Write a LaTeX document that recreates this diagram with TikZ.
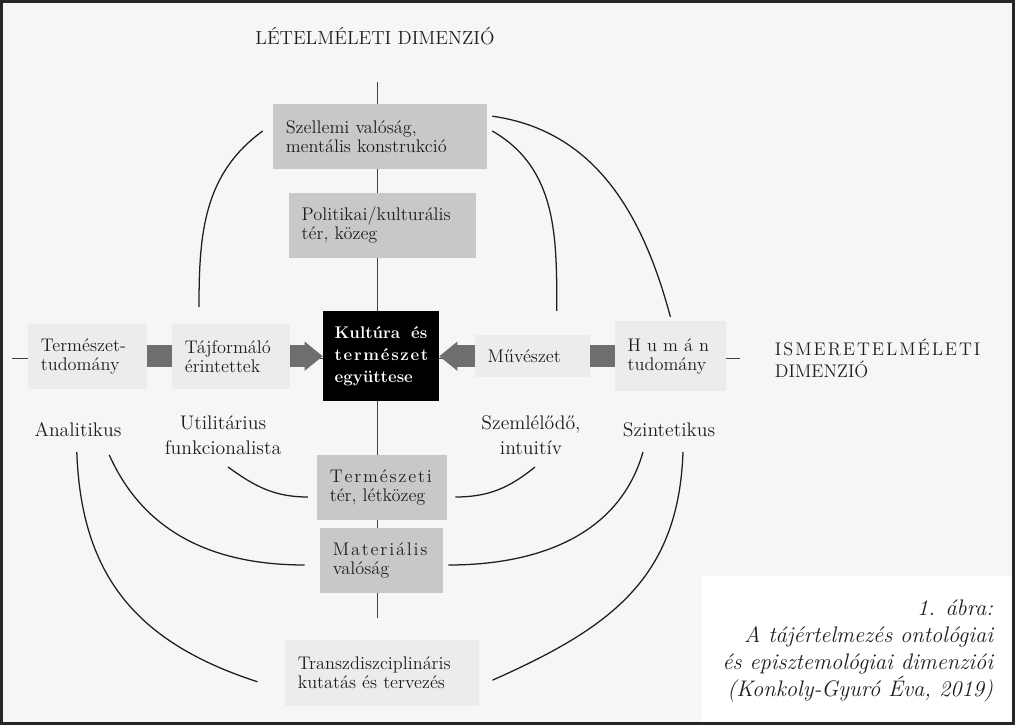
\documentclass[tikz,border=0pt]{standalone}
\usepackage{fontspec}
\usetikzlibrary{shapes,calc,arrows.meta}
\definecolor{bgcol}{HTML}{F6F6F6}
\definecolor{darkgr}{HTML}{C8C8C8}
\definecolor{lightgr}{HTML}{ECECEC}
\definecolor{barcol}{HTML}{6E6E6E}
\definecolor{inkcol}{HTML}{1E1E1E}
\newcommand{\sps}[2]{\def\spkern{\kern#1}\spsloop#2\relax}
\def\spsloop#1{\ifx#1\relax\else#1\spkern\expandafter\spsloop\fi}
\hyphenpenalty=10000
\exhyphenpenalty=10000
\tikzset{
  boxbase/.style={rectangle,align=left,inner xsep=0.32cm,inner ysep=0pt,text=inkcol,font=\fontsize{13}{13.5}\selectfont},
  dbox/.style={boxbase,fill=darkgr},
  lbox/.style={boxbase,fill=lightgr},
  lbl/.style={align=center,text=inkcol,font=\fontsize{14}{17.5}\selectfont},
  axis/.style={black!75,line width=0.6pt},
  bow/.style={inkcol,line width=0.9pt},
  gbar/.style={barcol,line width=0.55cm},
  garrow/.style={gbar,-{Triangle[length=0.45cm,width=0.7cm]}}
}

\begin{document}
\begin{tikzpicture}
\useasboundingbox (0,0) rectangle (25.375,18.125);
\fill[bgcol] (0,0) rectangle (25.375,18.125);
\fill[white] (17.55,0.075) rectangle (25.3,3.725);
\draw[axis] (9.43,16.075) -- (9.43,2.675);
\draw[axis] (0.3,9.175) -- (18.5,9.175);
\node[text=inkcol,font=\fontsize{13.5}{15}\selectfont] (LET) at (9.375,17.225) {LÉTELMÉLETI DIMENZIÓ};
\node[dbox,text width=4.71cm,minimum height=1.625cm] (SZM) at (9.5,14.71) {Szellemi valóság,\\mentális konstrukció};
\node[dbox,text width=4.035cm,minimum height=1.625cm] (POL) at (9.56,12.49) {Politikai/kulturális\\tér, közeg};
\node[lbox,text width=2.335cm,minimum height=1.625cm] (TTU) at (2.19,9.22) {Természet-\\tudomány};
\node[lbox,text width=2.31cm,minimum height=1.625cm] (TAJ) at (5.775,9.22) {Tájformáló\\érintettek};
\node[rectangle,fill=black,text=white,align=left,inner xsep=0.29cm,inner ysep=0pt,text width=2.32cm,minimum height=2.25cm,font=\fontsize{12}{15.6}\selectfont\bfseries] (KUL) at (9.525,9.22) {\hbox to 2.32cm{Kultúra\hfill és}\\\sps{1.2pt}{természet}\\együttese};
\node[lbox,text width=2.235cm,minimum height=1.05cm] (MUV) at (13.31,9.22) {Művészet};
\node[lbox,text width=2.135cm,minimum height=1.75cm] (HUM) at (16.76,9.22) {\sps{4.3pt}{Humán}\\tudomány};
\node[text=inkcol,align=left,anchor=west,font=\fontsize{13}{15.6}\selectfont] (ISM) at (19.25,9.175) {\sps{1.4pt}{ISMERETELMÉLETI}\\DIMENZIÓ};
\node[dbox,text width=2.61cm,minimum height=1.625cm] (TER) at (9.55,5.94) {\sps{1.3pt}{Természeti}\\tér, létközeg};
\node[dbox,text width=2.435cm,minimum height=1.625cm] (MAT) at (9.54,4.11) {\sps{1.3pt}{Materiális}\\valóság};
\node[lbox,text width=4.21cm,minimum height=1.65cm] (TRA) at (9.55,1.3) {Transzdiszciplináris\\kutatás és tervezés};
\node[lbl] (ANA) at (1.95,7.375) {Analitikus};
\node[lbl] (UTI) at (5.575,7.25) {Utilitárius\\funkcionalista};
\node[lbl] (SZE) at (13.275,7.25) {Szemlélődő,\\intuitív};
\node[lbl] (SZI) at (16.725,7.375) {Szintetikus};
\node[align=right,anchor=east,text=inkcol,font=\fontsize{16}{19.4}\selectfont\itshape] (CAP) at (24.95,1.85) {1. ábra:\\A tájértelmezés ontológiai\\és episztemológiai dimenziói\\(Konkoly-Gyuró Éva, 2019)};
\draw[gbar] (TTU) -- (TAJ);
\draw[garrow] (TAJ) -- (KUL);
\draw[gbar] (HUM) -- (MUV);
\draw[garrow] (MUV) -- (KUL);
\draw[bow] ($(SZM.west)+(-0.25,0.14)$) to[out=216,in=90] ($(TAJ.north)+(-0.8,0.41)$);
\draw[bow] ($(SZM.east)+(0.125,0.51)$) to[out=-8,in=105] ($(HUM.north)+(0,0.1)$);
\draw[bow] ($(SZM.east)+(0.125,0.14)$) to[out=-30,in=90] ($(MUV.north)+(0.61,0.6)$);
\draw[bow] ($(UTI)+(0.125,-0.8)$) to[out=-36,in=180] ($(TER.west)+(-0.22,-0.24)$);
\draw[bow] ($(ANA)+(0.78,-0.62)$) to[out=-66,in=180] ($(MAT.west)+(-0.38,-0.11)$);
\draw[bow] ($(ANA)+(-0.03,-0.55)$) to[out=-88,in=162,looseness=1.1] ($(TRA.west)+(-0.68,-0.22)$);
\draw[bow] ($(SZE)+(0.1,-0.8)$) to[out=-141,in=0] ($(TER.east)+(0.2,-0.24)$);
\draw[bow] ($(SZI)+(-0.65,-0.55)$) to[out=-106,in=0] ($(MAT.east)+(0.125,-0.11)$);
\draw[bow] ($(SZI)+(0.35,-0.55)$) to[out=-92,in=24,looseness=1.1] ($(TRA.east)+(0.33,-0.18)$);
\draw[black!85,line width=0.075cm] (0.0375,0.0375) rectangle (25.3375,18.0875);
\end{tikzpicture}
\end{document}
